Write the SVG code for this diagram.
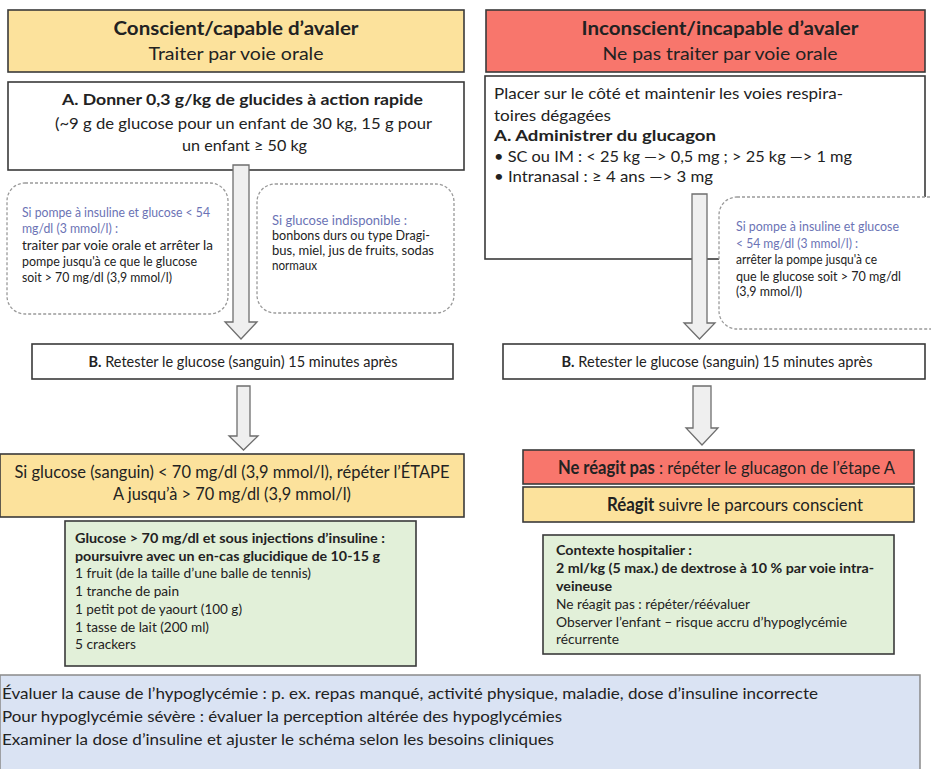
<svg xmlns="http://www.w3.org/2000/svg" width="931" height="769" viewBox="0 0 931 769">
<defs>
<style>
text{font-family:Lato,"Open Sans","Liberation Sans",sans-serif;fill:#222}
.b{font-weight:bold}
.box{stroke:#3a3a3a;stroke-width:1.6}
.yel{fill:#fce29c}
.red{fill:#f8766c}
.grn{fill:#e2f0d9}
.wht{fill:#fff}
.dash{fill:#fff;stroke:#9a9a9a;stroke-width:1.3;stroke-dasharray:3 2}
.arr{fill:#efefef;stroke:#6e6e6e;stroke-width:1.3}
.bl{fill:#6b73b5}
.c{text-anchor:middle}
.h1{font-size:18px}
.h2{font-size:18px}
.m{font-size:16px}
.s{font-size:13px}
.g{font-size:13.5px}
.f{font-size:16px}
</style>
</defs>

<g id="hdr-left">
<rect class="box yel" x="8" y="10" width="456" height="62"/>
<text class="b h1 c" x="236" y="35" textLength="245" lengthAdjust="spacingAndGlyphs">Conscient/capable d’avaler</text>
<text class="h2 c" x="236" y="60" textLength="175" lengthAdjust="spacingAndGlyphs">Traiter par voie orale</text>
</g>

<g id="hdr-right">
<rect class="box red" x="486" y="10" width="439" height="62"/>
<text class="b h1 c" x="720" y="35" textLength="277" lengthAdjust="spacingAndGlyphs">Inconscient/incapable d’avaler</text>
<text class="h2 c" x="720" y="60" textLength="235" lengthAdjust="spacingAndGlyphs">Ne pas traiter par voie orale</text>
</g>

<g id="stepA-left">
<rect class="box wht" x="8" y="82" width="456" height="88"/>
<text class="b m" x="62" y="105" textLength="361" lengthAdjust="spacingAndGlyphs">A. Donner 0,3 g/kg de glucides à action rapide</text>
<text class="m" x="55" y="129" textLength="377" lengthAdjust="spacingAndGlyphs">(~9 g de glucose pour un enfant de 30 kg, 15 g pour</text>
<text class="m" x="182" y="151" textLength="125" lengthAdjust="spacingAndGlyphs">un enfant ≥ 50 kg</text>
</g>

<g id="stepA-right">
<rect class="box wht" x="485" y="76" width="440" height="183"/>
<text class="m" x="494" y="99" textLength="349" lengthAdjust="spacingAndGlyphs">Placer sur le côté et maintenir les voies respira-</text>
<text class="m" x="494" y="121" textLength="117" lengthAdjust="spacingAndGlyphs">toires dégagées</text>
<text class="m b" x="494" y="141" textLength="222" lengthAdjust="spacingAndGlyphs">A. Administrer du glucagon</text>
<text class="m" x="494" y="162" textLength="358" lengthAdjust="spacingAndGlyphs">• SC ou IM : &lt; 25 kg —&gt; 0,5 mg ; &gt; 25 kg —&gt; 1 mg</text>
<text class="m" x="494" y="182" textLength="219" lengthAdjust="spacingAndGlyphs">• Intranasal : ≥ 4 ans —&gt; 3 mg</text>
</g>

<g id="connectors">
<polygon class="arr" points="233,165 249,165 249,322 257,322 241,339 225,322 233,322"/>
<polygon class="arr" points="237,386 250,386 250,436 258,436 243.5,450 229,436 237,436"/>
<polygon class="arr" points="692,194 707,194 707,323 715,323 699.5,339 684,323 692,323"/>
<polygon class="arr" points="693,386 711,386 711,428 718,428 702,445 686,428 693,428"/>
</g>

<g id="note-pump-left">
<rect class="dash" x="7" y="183" width="221" height="131" rx="18"/>
<text class="s bl" x="22" y="217" textLength="188" lengthAdjust="spacingAndGlyphs">Si pompe à insuline et glucose &lt; 54</text>
<text class="s bl" x="22" y="233" textLength="96" lengthAdjust="spacingAndGlyphs">mg/dl (3 mmol/l) :</text>
<text class="s" x="22" y="250" textLength="191" lengthAdjust="spacingAndGlyphs">traiter par voie orale et arrêter la</text>
<text class="s" x="22" y="266" textLength="175" lengthAdjust="spacingAndGlyphs">pompe jusqu'à ce que le glucose</text>
<text class="s" x="22" y="282" textLength="150" lengthAdjust="spacingAndGlyphs">soit &gt; 70 mg/dl (3,9 mmol/l)</text>
</g>

<g id="note-noglucose">
<rect class="dash" x="257" y="184" width="197" height="129" rx="18"/>
<text class="s bl" x="272" y="225" textLength="135" lengthAdjust="spacingAndGlyphs">Si glucose indisponible :</text>
<text class="s" x="272" y="240" textLength="158" lengthAdjust="spacingAndGlyphs">bonbons durs ou type Dragi-</text>
<text class="s" x="272" y="255" textLength="162" lengthAdjust="spacingAndGlyphs">bus, miel, jus de fruits, sodas</text>
<text class="s" x="272" y="270" textLength="45" lengthAdjust="spacingAndGlyphs">normaux</text>
</g>

<g id="note-pump-right">
<rect class="dash" x="719" y="197" width="230" height="132" rx="18"/>
<text class="s bl" x="736" y="231" textLength="163" lengthAdjust="spacingAndGlyphs">Si pompe à insuline et glucose</text>
<text class="s bl" x="736" y="248" textLength="122" lengthAdjust="spacingAndGlyphs">&lt; 54 mg/dl (3 mmol/l) :</text>
<text class="s" x="736" y="264" textLength="141" lengthAdjust="spacingAndGlyphs">arrêter la pompe jusqu'à ce</text>
<text class="s" x="736" y="281" textLength="165" lengthAdjust="spacingAndGlyphs">que le glucose soit &gt; 70 mg/dl</text>
<text class="s" x="736" y="296" textLength="66" lengthAdjust="spacingAndGlyphs">(3,9 mmol/l)</text>
</g>

<g id="stepB-left">
<rect class="box wht" x="32" y="344" width="421" height="35"/>
<text class="f c" x="243" y="367" textLength="309" lengthAdjust="spacingAndGlyphs"><tspan class="b">B.</tspan> Retester le glucose (sanguin) 15 minutes après</text>
</g>

<g id="stepB-right">
<rect class="box wht" x="503" y="344" width="422" height="35"/>
<text class="f c" x="717" y="367" textLength="311" lengthAdjust="spacingAndGlyphs"><tspan class="b">B.</tspan> Retester le glucose (sanguin) 15 minutes après</text>
</g>

<g id="repeat-left">
<rect class="box yel" x="0" y="454" width="464" height="63"/>
<text class="h2 c" x="232" y="478" textLength="435" lengthAdjust="spacingAndGlyphs">Si glucose (sanguin) &lt; 70 mg/dl (3,9 mmol/l), répéter l’ÉTAPE</text>
<text class="h2 c" x="232" y="500" textLength="238" lengthAdjust="spacingAndGlyphs">A jusqu’à &gt; 70 mg/dl (3,9 mmol/l)</text>
</g>

<g id="snack-left">
<rect class="box grn" x="65" y="521" width="351" height="145"/>
<text class="g b" x="75" y="543" textLength="310" lengthAdjust="spacingAndGlyphs">Glucose &gt; 70 mg/dl et sous injections d’insuline :</text>
<text class="g b" x="75" y="561" textLength="305" lengthAdjust="spacingAndGlyphs">poursuivre avec un en-cas glucidique de 10-15 g</text>
<text class="g" x="75" y="578" textLength="236" lengthAdjust="spacingAndGlyphs">1 fruit (de la taille d’une balle de tennis)</text>
<text class="g" x="75" y="596" textLength="104" lengthAdjust="spacingAndGlyphs">1 tranche de pain</text>
<text class="g" x="75" y="614" textLength="167" lengthAdjust="spacingAndGlyphs">1 petit pot de yaourt (100 g)</text>
<text class="g" x="75" y="632" textLength="134" lengthAdjust="spacingAndGlyphs">1 tasse de lait (200 ml)</text>
<text class="g" x="75" y="649" textLength="61" lengthAdjust="spacingAndGlyphs">5 crackers</text>
</g>

<g id="noresp-right">
<rect class="box red" x="523" y="450" width="391" height="34"/>
<text class="h2" x="558" y="474" textLength="337" lengthAdjust="spacingAndGlyphs"><tspan class="b">Ne réagit pas</tspan> : répéter le glucagon de l’étape A</text>
</g>

<g id="resp-right">
<rect class="box yel" x="523" y="487" width="391" height="35"/>
<text class="h2" x="607" y="511" textLength="256" lengthAdjust="spacingAndGlyphs"><tspan class="b">Réagit</tspan>  suivre le parcours conscient</text>
</g>

<g id="hospital-right">
<rect class="box grn" x="543" y="535" width="351" height="119"/>
<text class="g b" x="556" y="555" textLength="136" lengthAdjust="spacingAndGlyphs">Contexte hospitalier :</text>
<text class="g b" x="556" y="573" textLength="318" lengthAdjust="spacingAndGlyphs">2 ml/kg (5 max.) de dextrose à 10 % par voie intra-</text>
<text class="g b" x="556" y="591" textLength="56" lengthAdjust="spacingAndGlyphs">veineuse</text>
<text class="g" x="556" y="609" textLength="194" lengthAdjust="spacingAndGlyphs">Ne réagit pas : répéter/réévaluer</text>
<text class="g" x="556" y="627" textLength="291" lengthAdjust="spacingAndGlyphs">Observer l’enfant – risque accru d’hypoglycémie</text>
<text class="g" x="556" y="644" textLength="63" lengthAdjust="spacingAndGlyphs">récurrente</text>
</g>

<g id="footer">
<rect x="0" y="675" width="920" height="100" fill="#dae3f3" stroke="#8a8a8a" stroke-width="1.5"/>
<text class="f" x="2" y="699" textLength="816" lengthAdjust="spacingAndGlyphs">Évaluer la cause de l’hypoglycémie : p. ex. repas manqué, activité physique, maladie, dose d’insuline incorrecte</text>
<text class="f" x="2" y="722" textLength="560" lengthAdjust="spacingAndGlyphs">Pour hypoglycémie sévère : évaluer la perception altérée des hypoglycémies</text>
<text class="f" x="2" y="745" textLength="552" lengthAdjust="spacingAndGlyphs">Examiner la dose d’insuline et ajuster le schéma selon les besoins cliniques</text>
</g>
</svg>
